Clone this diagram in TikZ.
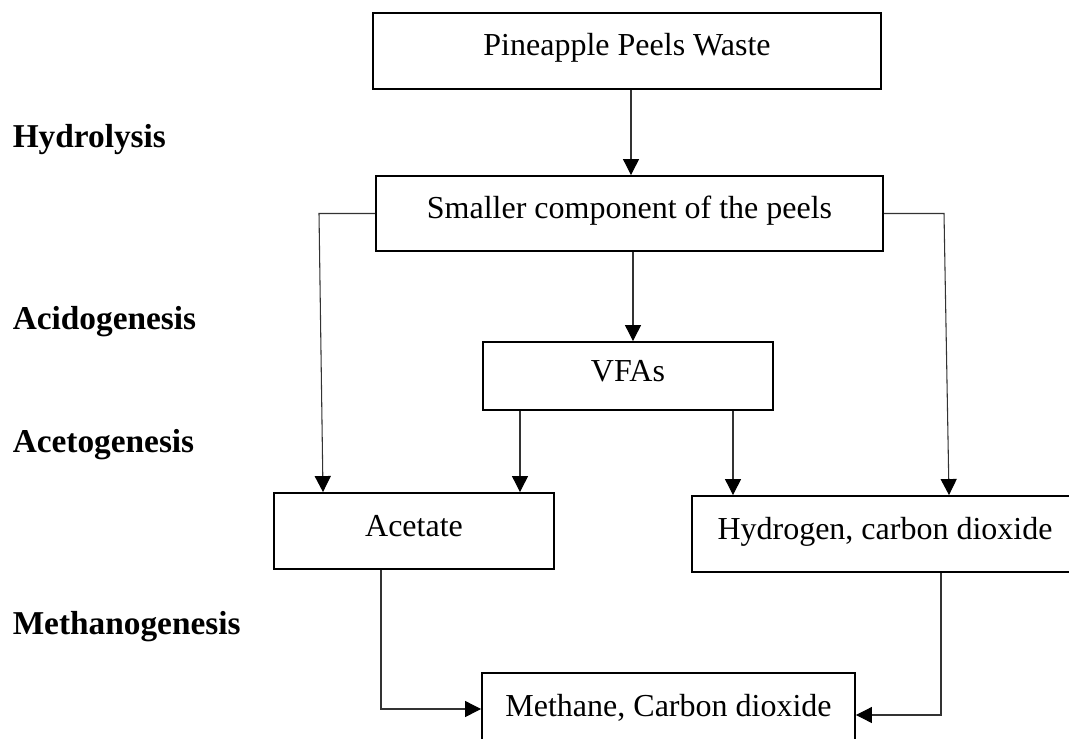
\documentclass[tikz,border=0pt]{standalone}
\usepackage{fontspec}
\setmainfont{Liberation Serif}
\usetikzlibrary{arrows.meta,calc}
\begin{document}
\begin{tikzpicture}[x=0.75pt,y=-0.75pt,
  box/.style={draw=black, line width=1.4pt, rectangle, inner sep=0pt,
    font=\fontsize{24}{28}\selectfont, text height=17.5pt, text depth=10pt},
  sz/.style 2 args={minimum width=#1*0.75pt, minimum height=#2*0.75pt},
  lab/.style={inner sep=0pt, anchor=base west, font=\fontsize{25}{30}\selectfont\bfseries},
  arr/.style={draw=black!80, line width=0.8pt, -{Triangle[length=12pt,width=12pt,color=black]}}]
\useasboundingbox (0,0) rectangle (1069,738);
% boxes
\node[box, sz={508}{76}] (p1) at (627,51) {Pineapple Peels Waste};
\node[box, sz={507}{75}] (p2) at (629.5,213.5) {Smaller component of the peels};
\node[box, sz={290}{68}] (p3) at (628,376) {VFAs};
\node[box, sz={280}{76}] (p4) at (414,531) {Acetate};
\node[box, sz={386}{76}] (p5) at (885,534) {Hydrogen, carbon dioxide};
\node[box, sz={373}{76}] (p6) at (668.5,711) {Methane, Carbon dioxide};
% stage labels
\node[lab] (h1) at (12.5,147.5) {Hydrolysis};
\node[lab] (h2) at (12.5,329.5) {Acidogenesis};
\node[lab] (h3) at (12.5,452.5) {Acetogenesis};
\node[lab] (h4) at (12.5,634.5) {Methanogenesis};
% connectors
\coordinate (c1) at (631,0);
\draw[arr] (p1.south -| c1) -- (p2.north -| c1);
\coordinate (c2) at (633,0);
\draw[arr] (p2.south -| c2) -- (p3.north -| c2);
\coordinate (l1) at (319,0);
\coordinate (l2) at (323,0);
\draw[arr] (p2.west) -- (p2.west -| l1) -- (p4.north -| l2);
\coordinate (r1) at (944,0);
\coordinate (r2) at (949,0);
\draw[arr] (p2.east) -- (p2.east -| r1) -- (p5.north -| r2);
\coordinate (v1) at (520,0);
\draw[arr] (p3.south -| v1) -- (p4.north -| v1);
\coordinate (v2) at (733,0);
\draw[arr] (p3.south -| v2) -- (p5.north -| v2);
\coordinate (m1) at (381,709);
\draw[arr] (p4.south -| m1) -- (m1) -- (m1 -| p6.west);
\coordinate (m2) at (941,715);
\draw[arr] (p5.south -| m2) -- (m2) -- (m2 -| p6.east);
\end{tikzpicture}
\end{document}
